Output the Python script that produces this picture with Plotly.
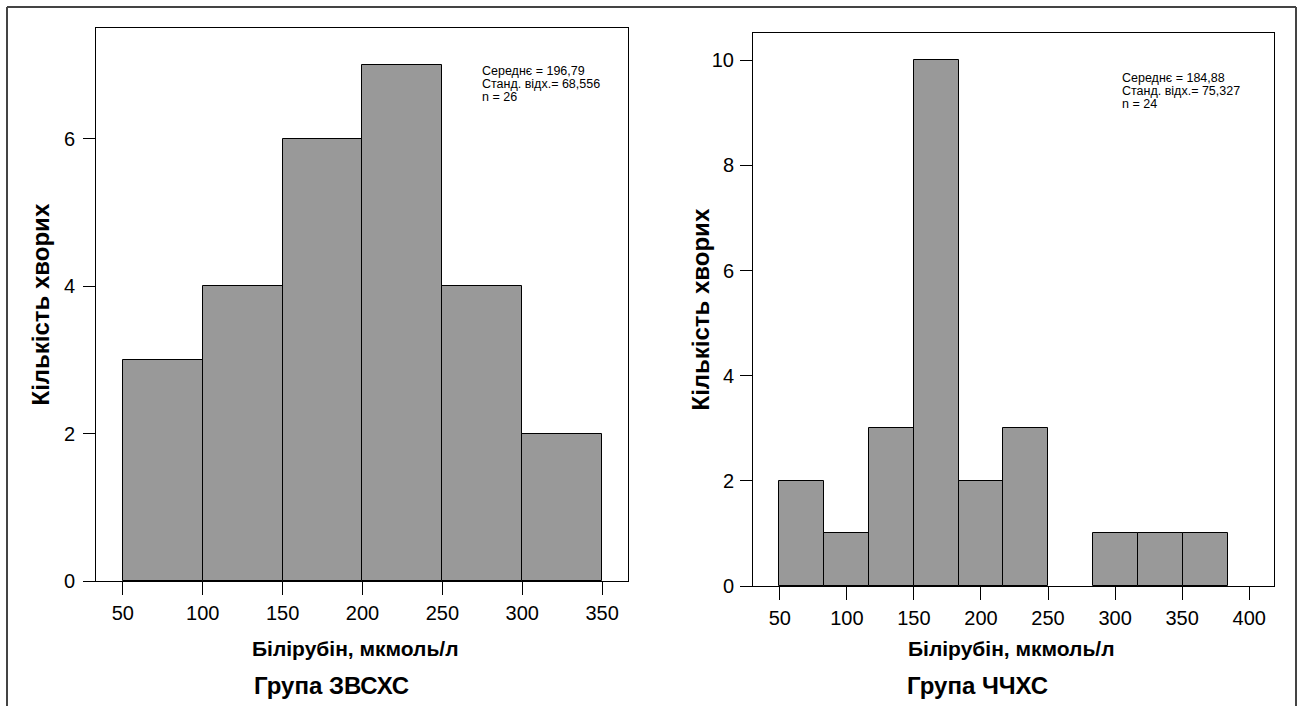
import plotly.graph_objects as go

# ---- data ----
left_edges = [50, 100, 150, 200, 250, 300, 350]
left_counts = [3, 4, 6, 7, 4, 2]
right_edges = [49.3, 82.8, 116.3, 149.8, 183.3, 216.7, 250.2, 283.7, 317.2, 350.7, 384.2]
right_counts = [2, 1, 3, 10, 2, 3, 0, 1, 1, 1]
left_stats = ["Середнє = 196,79", "Станд. відх.= 68,556", "n = 26"]
right_stats = ["Середнє = 184,88", "Станд. відх.= 75,327", "n = 24"]
left_xticks = [50, 100, 150, 200, 250, 300, 350]
right_xticks = [50, 100, 150, 200, 250, 300, 350, 400]
left_yticks = [0, 2, 4, 6]
right_yticks = [0, 2, 4, 6, 8, 10]
x_title = "Білірубін, мкмоль/л"
y_title = "Кількість хворих"
left_group = "Група ЗВСХС"
right_group = "Група ЧЧХС"

W, H = 1299, 706
FONT = "Liberation Sans, Arial, sans-serif"


def centers(edges):
    return [(a + b) / 2 for a, b in zip(edges[:-1], edges[1:])]


def widths(edges):
    return [b - a for a, b in zip(edges[:-1], edges[1:])]


def nz(counts):
    # empty bins draw no bar
    return [c if c > 0 else None for c in counts]


fig = go.Figure()
bar_style = dict(marker=dict(color="#999999", line=dict(color="black", width=1)), showlegend=False, hoverinfo="skip")
fig.add_trace(go.Bar(x=centers(left_edges), y=nz(left_counts), width=widths(left_edges), xaxis="x", yaxis="y", **bar_style))
fig.add_trace(go.Bar(x=centers(right_edges), y=nz(right_counts), width=widths(right_edges), xaxis="x2", yaxis="y2", **bar_style))

# pixel frames
L = dict(x0=96, x1=628, y0=28, y1=581)
R = dict(x0=753, x1=1274, y0=33, y1=586)


def px(x):
    return x / W


def py(y):
    return 1 - y / H


axis_common = dict(showline=True, mirror=True, linecolor="black", linewidth=1, showgrid=False,
                   zeroline=False, ticks="outside", tickcolor="black", tickwidth=1, automargin=False,
                   tickfont=dict(family=FONT, size=20, color="black"))

fig.update_layout(
    width=W, height=H, margin=dict(l=0, r=0, t=0, b=0, autoexpand=False),
    paper_bgcolor="white", plot_bgcolor="white", bargap=0,
    xaxis=dict(domain=[px(L["x0"]), px(L["x1"])], range=[33.2, 366.2], tickvals=left_xticks,
               ticklen=13, ticklabelstandoff=1, anchor="y", **axis_common),
    yaxis=dict(domain=[py(L["y1"]), py(L["y0"])], range=[0, 7.5], tickvals=left_yticks,
               ticklen=12, ticklabelstandoff=4, anchor="x", **axis_common),
    xaxis2=dict(domain=[px(R["x0"]), px(R["x1"])], range=[30.0, 418.5], tickvals=right_xticks,
                ticklen=13, ticklabelstandoff=1, anchor="y2", **axis_common),
    yaxis2=dict(domain=[py(R["y1"]), py(R["y0"])], range=[0, 10.52], tickvals=right_yticks,
                ticklen=12, ticklabelstandoff=2, anchor="x2", **axis_common),
)

ann = []
# stats
for i, s in enumerate(left_stats):
    ann.append(dict(xref="paper", yref="paper", x=px(480), y=py(70.5 + 13.2 * i), text=s, showarrow=False,
                    xanchor="left", yanchor="middle", font=dict(family=FONT, size=12.5, color="black")))
for i, s in enumerate(right_stats):
    ann.append(dict(xref="paper", yref="paper", x=px(1120), y=py(77.5 + 13.2 * i), text=s, showarrow=False,
                    xanchor="left", yanchor="middle", font=dict(family=FONT, size=12.5, color="black")))
# x-axis titles
for cx in [355, 1011]:
    ann.append(dict(xref="paper", yref="paper", x=px(cx), y=py(648), text="<b>" + x_title + "</b>",
                    showarrow=False, xanchor="center", yanchor="middle",
                    font=dict(family=FONT, size=21, color="black")))
# group titles
for cx, g in [(331, left_group), (977, right_group)]:
    ann.append(dict(xref="paper", yref="paper", x=px(cx), y=py(685), text="<b>" + g + "</b>",
                    showarrow=False, xanchor="center", yanchor="middle",
                    font=dict(family=FONT, size=24, color="black")))
# y-axis titles
for xx, frame in [(40, L), (700, R)]:
    ann.append(dict(xref="paper", yref="paper", x=px(xx), y=py((frame["y0"] + frame["y1"]) / 2),
                    text="<b>" + y_title + "</b>", textangle=-90, showarrow=False,
                    xanchor="center", yanchor="middle", font=dict(family=FONT, size=24, color="black")))
fig.update_layout(annotations=ann)

# outer border (left, top, right)
border = dict(color="#444444", width=2)
shapes = [
    dict(type="line", xref="paper", yref="paper", x0=px(7), x1=px(7), y0=0, y1=py(7), line=border),
    dict(type="line", xref="paper", yref="paper", x0=px(7), x1=px(1296), y0=py(7), y1=py(7), line=border),
    dict(type="line", xref="paper", yref="paper", x0=px(1296), x1=px(1296), y0=0, y1=py(7), line=border),
]
fig.update_layout(shapes=shapes)

fig.write_html("out.html", config={"displayModeBar": False},
               post_script="document.body.style.margin='0';document.body.style.overflow='hidden';")
